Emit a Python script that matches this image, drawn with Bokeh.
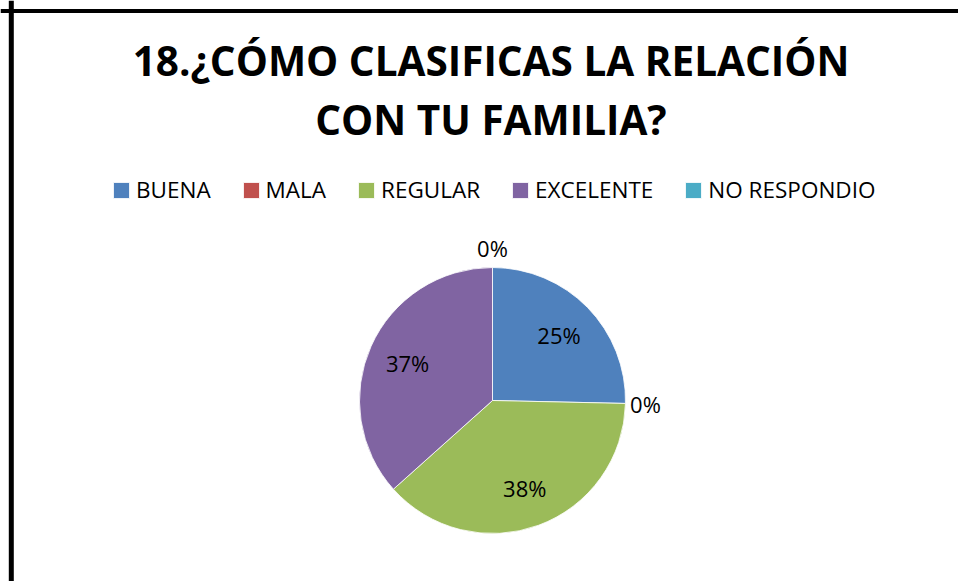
import numpy as np
from bokeh.plotting import figure
from bokeh.models import ColumnDataSource, Range1d, Label, Span, Legend, LegendItem
from bokeh.embed import file_html
from bokeh.resources import INLINE

# ---- data ----
categories = ["BUENA", "MALA", "REGULAR", "EXCELENTE", "NO RESPONDIO"]
counts = [18, 0, 27, 26, 0]
colors = ["#4F81BD", "#C0504D", "#9BBB59", "#8064A2", "#4BACC6"]
title_lines = ["18.¿CÓMO CLASIFICAS LA RELACIÓN", "CON TU FAMILIA?"]

# ---- layout (page pixels, y measured upward from page bottom) ----
W, H = 958, 581
CX, CY = 492, H - 400
R = 133
R_IN = 93
R_OUT = 153

vals = np.array(counts, dtype=float)
frac = vals / vals.sum()
cum_end = np.cumsum(frac)
cum_start = cum_end - frac
start_angle = np.pi / 2 - 2 * np.pi * cum_start
end_angle = np.pi / 2 - 2 * np.pi * cum_end
mid = (start_angle + end_angle) / 2
lab_r = np.where(frac > 0, R_IN, R_OUT)
radius = np.where(frac > 0, R, 0.0)
labels = [f"{int(round(f * 100))}%" for f in frac]

src = ColumnDataSource(dict(
    cat=categories, color=colors, start=start_angle, end=end_angle, radius=radius,
    lx=CX + lab_r * np.cos(mid), ly=CY + lab_r * np.sin(mid), label=labels,
))

p = figure(width=W, height=H, output_backend="svg", toolbar_location=None,
           x_range=Range1d(0, W), y_range=Range1d(0, H),
           x_axis_type=None, y_axis_type=None, min_border=0)
p.grid.visible = False
p.outline_line_color = None
p.background_fill_color = "white"
p.border_fill_color = "white"

wr = p.wedge(x=CX, y=CY, radius="radius", start_angle="start", end_angle="end",
             direction="clock", fill_color="color", line_color="white",
             line_width=0.8, source=src)

p.text(x="lx", y="ly", text="label", source=src, text_align="center",
       text_baseline="middle", text_font_size="22px", text_color="black",
       text_font={"value": "Open Sans"})

# frame
p.add_layout(Span(location=10.8, dimension="height", line_color="black", line_width=5))
p.add_layout(Span(location=H - 10.6, dimension="width", line_color="black", line_width=4))

# title
for i, t in enumerate(title_lines):
    p.add_layout(Label(x=490.5, y=H - (60 + 59 * i), text=t, text_align="center",
                       text_baseline="alphabetic", text_font="Open Sans",
                       text_font_style="bold", text_font_size="40.5px", text_color="black"))

# legend
items = [LegendItem(label=c, renderers=[wr], index=i) for i, c in enumerate(categories)]
legend = Legend(items=items, orientation="horizontal", location=(111, 376),
                border_line_color=None, background_fill_alpha=0, padding=0, margin=0,
                spacing=30, glyph_width=20, glyph_height=20, label_standoff=5,
                label_text_font="Open Sans", label_text_font_size="22.5px",
                label_text_color="black")
p.add_layout(legend)

open("out.html", "w").write(file_html(p, INLINE))
